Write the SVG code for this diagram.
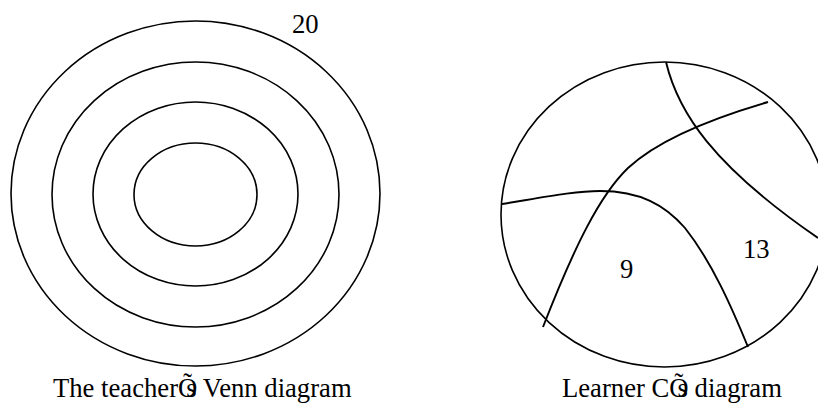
<svg xmlns="http://www.w3.org/2000/svg" width="818" height="403" viewBox="0 0 818 403">
<style>
.ln{fill:none;stroke:#000;stroke-width:1.6}
.cv{fill:none;stroke:#000;stroke-width:1.9}
.t{font-family:"Liberation Serif","Times New Roman",serif;font-size:26.67px;fill:#000}
</style>
<rect width="818" height="403" fill="#fff"/>
<g id="teacher-venn">
<ellipse class="ln" cx="195.5" cy="193.5" rx="184.5" ry="172.5"/>
<ellipse class="ln" cx="195.5" cy="194.5" rx="143.5" ry="132.5"/>
<ellipse class="ln" cx="195.5" cy="194" rx="102.5" ry="92"/>
<ellipse class="ln" cx="195.5" cy="194.5" rx="61.5" ry="51.5"/>
<text class="t" x="292" y="33">20</text>
<text class="t" x="53" y="397">The teacherÕ<tspan dx="-11">s Venn diagram</tspan></text>
</g>
<g id="learner-diagram">
<ellipse class="ln" cx="664.5" cy="214.5" rx="163.5" ry="152.5"/>
<text class="t" x="620" y="278">9</text>
<text class="t" x="743" y="258">13</text>
<text class="t" x="562" y="397">Learner CÕ<tspan dx="-11">s diagram</tspan></text>
</g>
<g id="connectors">
<path class="cv" d="M666,62 C678,112 712,165 818,238"/>
<path class="cv" d="M768,102 C720,116 660,138 628,168 C600,195 575,245 543,327"/>
<path class="cv" d="M502,204 C545,197 575,191 600,191 C640,191 665,205 685,228 C712,262 732,308 748,347"/>
</g>
</svg>
